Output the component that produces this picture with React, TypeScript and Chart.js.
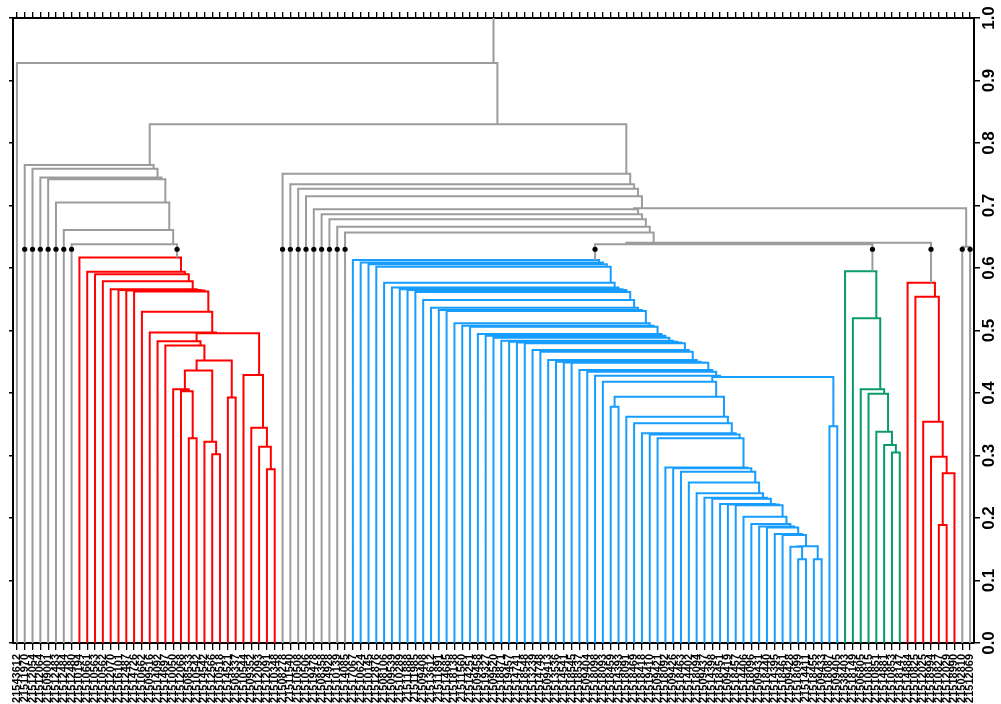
import { useEffect, useRef } from 'react';
import { Chart, registerables } from 'chart.js';

Chart.register(...registerables);

// Leaf identifiers, left to right along the bottom axis.
const leafLabels: string[] = [
  '21543612', '21511970', '21512054', '21512064', '21509001', '21512483', '21512484', '21512480',
  '21510194', '21510661', '21510563', '21510562', '21512070', '21516101', '21512487', '21514726',
  '21510662', '21509516', '21514092', '21514697', '21510050', '21512068', '21508533', '21510542',
  '21514542', '21512566', '21510518', '21514521', '21508337', '21510544', '21509352', '21512093',
  '21512091', '21510348',
  '21508278', '21511540', '21510508', '21510506', '21519478', '21508358', '21514928', '21510139',
  '21514085',
  '21517067', '21510624', '21510145', '21512876', '21508106', '21509539', '21510289', '21511888',
  '21511985', '21509408', '21513612', '21511891', '21514685', '21518138', '21511560', '21514251',
  '21509458', '21519327', '21509520', '21518871', '21519457', '21514741', '21518548', '21513239',
  '21514748', '21509413', '21513536', '21514541', '21518545', '21518537', '21509404', '21518098',
  '21518093', '21518459', '21514393', '21518091', '21518469', '21518418', '21519410', '21509421',
  '21518092', '21509426', '21518463', '21514402', '21518094', '21509437', '21514398', '21518451',
  '21509419', '21518457', '21514406', '21518096', '21509431', '21518440', '21514395', '21518461',
  '21509428', '21518099', '21514411', '21518455', '21509433', '21518087', '21509405',
  '21538403', '21518149', '21506805', '21510815', '21510851', '21514881', '21510853', '21518147',
  '21514884', '21510825', '21512025', '21518994', '21510827', '21512029', '21518990',
  '21502810', '21512069',
];

// Each merge: [first leaf, last leaf of left child, last leaf, height].
type Merge = [number, number, number, number];

// Links above the cut height.
const outerMerges: Merge[] = [
  [0, 0, 122, 0.928],
  [1, 33, 122, 0.83],
  [1, 1, 33, 0.765],
  [2, 2, 33, 0.759],
  [3, 3, 33, 0.745],
  [4, 4, 33, 0.742],
  [5, 5, 33, 0.705],
  [6, 6, 33, 0.661],
  [7, 7, 33, 0.638],
  [34, 34, 122, 0.751],
  [35, 35, 122, 0.734],
  [36, 36, 122, 0.727],
  [37, 37, 122, 0.715],
  [38, 120, 122, 0.6955],
  [121, 121, 122, 0.634],
  [38, 38, 120, 0.694],
  [39, 39, 120, 0.686],
  [40, 40, 120, 0.678],
  [41, 41, 120, 0.666],
  [42, 42, 120, 0.657],
  [43, 113, 120, 0.6405],
  [43, 105, 113, 0.638],
];

// First red cluster.
const redMergesA: Merge[] = [
  [8, 8, 33, 0.617],
  [9, 9, 33, 0.594],
  [10, 10, 33, 0.59],
  [11, 11, 33, 0.579],
  [12, 12, 33, 0.566],
  [13, 13, 33, 0.565],
  [14, 14, 33, 0.564],
  [15, 15, 33, 0.5625],
  [16, 16, 33, 0.53],
  [17, 17, 33, 0.497],
  [18, 28, 33, 0.4955],
  [18, 18, 28, 0.483],
  [19, 19, 28, 0.476],
  [20, 26, 28, 0.452],
  [27, 27, 28, 0.393],
  [20, 23, 26, 0.436],
  [24, 24, 26, 0.322],
  [25, 25, 26, 0.302],
  [20, 20, 23, 0.406],
  [21, 21, 23, 0.403],
  [22, 22, 23, 0.3275],
  [29, 29, 33, 0.429],
  [30, 30, 33, 0.3445],
  [31, 31, 33, 0.314],
  [32, 32, 33, 0.278],
];

// Blue cluster.
const blueMerges: Merge[] = [
  [43, 43, 105, 0.6128],
  [44, 44, 105, 0.609],
  [45, 45, 105, 0.606],
  [46, 46, 105, 0.602],
  [47, 47, 105, 0.5765],
  [48, 48, 105, 0.569],
  [49, 49, 105, 0.566],
  [50, 50, 105, 0.5648],
  [51, 51, 105, 0.5616],
  [52, 52, 105, 0.5488],
  [53, 53, 105, 0.5365],
  [54, 54, 105, 0.5328],
  [55, 55, 105, 0.5312],
  [56, 56, 105, 0.5115],
  [57, 57, 105, 0.5077],
  [58, 58, 105, 0.506],
  [59, 59, 105, 0.4944],
  [60, 60, 105, 0.4917],
  [61, 61, 105, 0.4885],
  [62, 62, 105, 0.4837],
  [63, 63, 105, 0.482],
  [64, 64, 105, 0.481],
  [65, 65, 105, 0.4795],
  [66, 66, 105, 0.4688],
  [67, 67, 105, 0.4661],
  [68, 68, 105, 0.4528],
  [69, 69, 105, 0.4501],
  [70, 70, 105, 0.449],
  [71, 71, 105, 0.4485],
  [72, 72, 105, 0.4368],
  [73, 73, 105, 0.4341],
  [74, 74, 105, 0.4275],
  [75, 103, 105, 0.4255],
  [104, 104, 105, 0.347],
  [75, 75, 103, 0.418],
  [76, 77, 103, 0.394],
  [76, 76, 77, 0.378],
  [78, 78, 103, 0.362],
  [79, 79, 103, 0.3515],
  [80, 80, 103, 0.3355],
  [81, 81, 103, 0.3335],
  [82, 82, 103, 0.3275],
  [83, 83, 103, 0.281],
  [84, 84, 103, 0.2795],
  [85, 85, 103, 0.274],
  [86, 86, 103, 0.257],
  [87, 87, 103, 0.2395],
  [88, 88, 103, 0.2325],
  [89, 89, 103, 0.231],
  [90, 90, 103, 0.2224],
  [91, 91, 103, 0.2215],
  [92, 92, 103, 0.2205],
  [93, 93, 103, 0.202],
  [94, 94, 103, 0.1904],
  [95, 95, 103, 0.1865],
  [96, 96, 103, 0.185],
  [97, 97, 103, 0.1744],
  [98, 98, 103, 0.173],
  [99, 101, 103, 0.155],
  [99, 99, 101, 0.154],
  [100, 100, 101, 0.134],
  [102, 102, 103, 0.1339],
];

// Green cluster.
const greenMerges: Merge[] = [
  [106, 106, 113, 0.595],
  [107, 107, 113, 0.5195],
  [108, 108, 113, 0.406],
  [109, 109, 113, 0.399],
  [110, 110, 113, 0.338],
  [111, 111, 113, 0.3168],
  [112, 112, 113, 0.305],
];

// Second red cluster.
const redMergesB: Merge[] = [
  [114, 114, 120, 0.5765],
  [115, 115, 120, 0.554],
  [116, 116, 120, 0.354],
  [117, 117, 120, 0.298],
  [118, 119, 120, 0.2715],
  [118, 118, 119, 0.1888],
];

const cutHeight = 0.63;
const yTicks = [0, 0.1, 0.2, 0.3, 0.4, 0.5, 0.6, 0.7, 0.8, 0.9, 1.0];
const yTickLabels = ['0.0', '0.1', '0.2', '0.3', '0.4', '0.5', '0.6', '0.7', '0.8', '0.9', '1.0'];

const GRAY = '#9c9c9c';
const RED = '#ff0000';
const BLUE = '#179dff';
const GREEN = '#0b9a6c';

const groups: { merges: Merge[]; color: string }[] = [
  { merges: outerMerges, color: GRAY },
  { merges: redMergesA, color: RED },
  { merges: blueMerges, color: BLUE },
  { merges: greenMerges, color: GREEN },
  { merges: redMergesB, color: RED },
];

type Pt = { x: number; y: number | null };

function buildTree() {
  const heights = new Map<string, number>();
  groups.forEach((g) => g.merges.forEach(([s, , e, h]) => heights.set(`${s}:${e}`, h)));
  const nodeH = (s: number, e: number) => (s === e ? 0 : heights.get(`${s}:${e}`) ?? 0);
  const nodeX = (s: number, e: number) => (s + e) / 2;

  const root = outerMerges[0];
  const dots: Pt[] = [];
  const lineSets = groups.map((g) => {
    const pts: Pt[] = [];
    g.merges.forEach((m) => {
      const [s, p, e, h] = m;
      const xl = nodeX(s, p);
      const xr = nodeX(p + 1, e);
      const hl = nodeH(s, p);
      const hr = nodeH(p + 1, e);
      pts.push({ x: xl, y: hl }, { x: xl, y: h }, { x: xr, y: h }, { x: xr, y: hr }, { x: xr, y: null });
      if (m !== root && h > cutHeight) {
        if (hl < cutHeight) dots.push({ x: xl, y: cutHeight });
        if (hr < cutHeight) dots.push({ x: xr, y: cutHeight });
      }
    });
    if (g.merges === outerMerges) {
      const rx = nodeX(root[0], root[2]);
      pts.push({ x: rx, y: root[3] }, { x: rx, y: 1.0 }, { x: rx, y: null });
    }
    return { pts, color: g.color };
  });
  return { lineSets, dots };
}

const FONT = '"Liberation Sans", Arial, Helvetica, sans-serif';

const rightLabels = {
  id: 'rightLabels',
  afterDraw(chart: any) {
    const s = chart.scales.yRight;
    const ctx = chart.ctx as CanvasRenderingContext2D;
    ctx.save();
    ctx.font = `bold 17px ${FONT}`;
    ctx.fillStyle = '#000';
    ctx.textAlign = 'center';
    ctx.textBaseline = 'middle';
    yTicks.forEach((v, i) => {
      const y = s.getPixelForValue(v);
      ctx.save();
      ctx.translate(s.left + 15, y);
      ctx.rotate(-Math.PI / 2);
      ctx.fillText(yTickLabels[i], 0, 0);
      ctx.restore();
    });
    ctx.restore();
  },
};

export default function App() {
  const ref = useRef<HTMLCanvasElement>(null);

  useEffect(() => {
    const { lineSets, dots } = buildTree();
    const leafTicks = (scale: any) => {
      scale.ticks = leafLabels.map((_, i) => ({ value: i }));
    };
    const valueTicks = (scale: any) => {
      scale.ticks = yTicks.map((v) => ({ value: v }));
    };
    const axisBorder = { display: true, color: '#000', width: 2 };

    const chart = new Chart(ref.current as HTMLCanvasElement, {
      type: 'line',
      data: {
        datasets: [
          {
            type: 'scatter',
            data: dots as any,
            pointRadius: 2.6,
            pointBackgroundColor: '#000',
            pointBorderWidth: 0,
            showLine: false,
            order: 0,
            xAxisID: 'x',
            yAxisID: 'y',
          } as any,
          ...lineSets.map((ls) => ({
            data: ls.pts as any,
            borderColor: ls.color,
            borderWidth: 2,
            pointRadius: 0,
            tension: 0,
            spanGaps: false,
            fill: false,
            borderCapStyle: 'butt',
            borderJoinStyle: 'miter',
            order: 1,
            xAxisID: 'x',
            yAxisID: 'y',
          })),
        ],
      },
      options: {
        responsive: false,
        animation: false,
        devicePixelRatio: 1,
        layout: { padding: 0 },
        plugins: { legend: { display: false }, tooltip: { enabled: false } },
        scales: {
          x: {
            type: 'linear',
            position: 'bottom',
            min: -0.5,
            max: 122.5,
            afterBuildTicks: leafTicks,
            afterFit: (s: any) => { s.height = 61; },
            ticks: {
              autoSkip: false,
              minRotation: 90,
              maxRotation: 90,
              padding: 4,
              color: '#000',
              font: { family: FONT, size: 11, weight: 'bold' },
              callback: (_v: any, i: number) => leafLabels[i],
            },
            grid: { drawOnChartArea: false, drawTicks: true, tickLength: 7, color: '#000', lineWidth: 1.3 },
            border: axisBorder,
          },
          xTop: {
            type: 'linear',
            position: 'top',
            min: -0.5,
            max: 122.5,
            afterBuildTicks: leafTicks,
            afterFit: (s: any) => { s.height = 18; },
            ticks: { display: false },
            grid: { drawOnChartArea: false, drawTicks: true, tickLength: 6, color: '#000', lineWidth: 1.3 },
            border: axisBorder,
          },
          y: {
            type: 'linear',
            position: 'left',
            min: 0,
            max: 1,
            afterBuildTicks: valueTicks,
            afterFit: (s: any) => { s.width = 13; },
            ticks: { display: false },
            grid: { drawOnChartArea: false, drawTicks: true, tickLength: 4, color: '#000', lineWidth: 1.5 },
            border: axisBorder,
          },
          yRight: {
            type: 'linear',
            position: 'right',
            min: 0,
            max: 1,
            afterBuildTicks: valueTicks,
            afterFit: (s: any) => { s.width = 27; },
            ticks: { display: false },
            grid: { drawOnChartArea: false, drawTicks: true, tickLength: 6, color: '#000', lineWidth: 1.5 },
            border: axisBorder,
          },
        },
      },
      plugins: [rightLabels],
    } as any);

    return () => chart.destroy();
  }, []);

  return (
    <div style={{ position: 'fixed', left: 0, top: 0, width: 1001, height: 704, background: '#fff' }}>
      <canvas ref={ref} width={1001} height={704} style={{ display: 'block', width: 1001, height: 704 }} />
    </div>
  );
}
